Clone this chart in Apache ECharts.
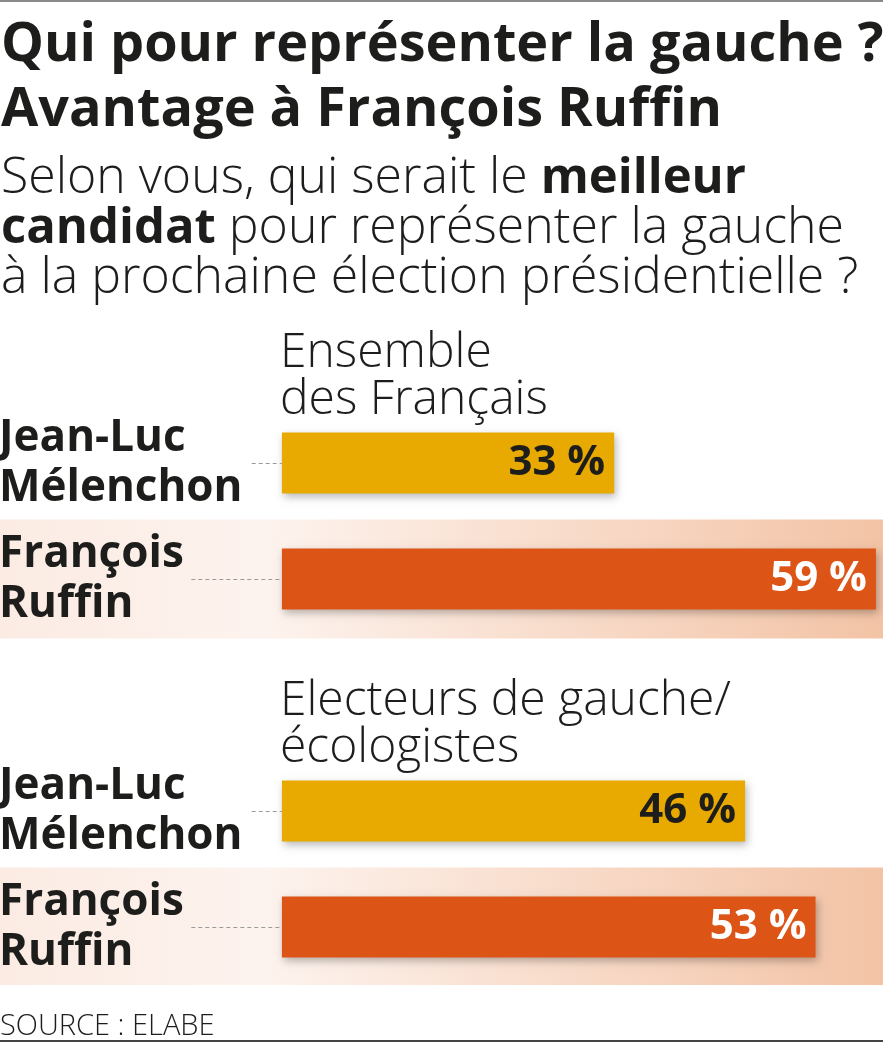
<!DOCTYPE html>
<html>
<head>
<meta charset="utf-8">
<script src="https://cdn.jsdelivr.net/npm/echarts@6/dist/echarts.min.js"></script>
<style>
html,body{margin:0;padding:0;background:#fff;}
#c{width:883px;height:1043px;}
</style>
</head>
<body>
<div id="c"></div>
<script>
const categories = ['', 'Jean-Luc\nMélenchon', 'François\nRuffin', '', 'Jean-Luc\nMélenchon', 'François\nRuffin'];
const groupHeaders = ['Ensemble\ndes Français', 'Electeurs de gauche/\nécologistes'];
const melenchonValues = ['-', 33, '-', '-', 46, '-'];
const ruffinValues = ['-', '-', 59, '-', '-', 53];
const highlightRows = ['-', '-', 1, '-', '-', 1];
const leaderMelenchon = -3;
const leaderRuffin = -9;

const FONT = "'Open Sans', sans-serif";
const DARK = '#1d1d1b';
const YELLOW = '#e8a900';
const ORANGE = '#dd5417';

const chart = echarts.init(document.getElementById('c'), null, {renderer: 'canvas'});

function leaders(values, start) {
  const out = [];
  values.forEach((v, i) => {
    if (v !== '-') out.push([{coord: [start, i]}, {coord: [0, i]}]);
  });
  return out;
}

const option = {
  backgroundColor: '#ffffff',
  animation: false,
  title: [
    {
      text: 'Qui pour représenter la gauche ?\nAvantage à François Ruffin',
      left: 1, top: 13, padding: 0,
      textStyle: {fontFamily: FONT, fontWeight: 700, fontSize: 54, lineHeight: 65, color: DARK}
    },
    {
      text: 'Selon vous, qui serait le {b|meilleur}\n{b|candidat} pour représenter la gauche\nà la prochaine élection présidentielle ?',
      left: 1, top: 154, padding: 0,
      textStyle: {
        fontFamily: FONT, fontWeight: 300, fontSize: 50, lineHeight: 50, color: DARK,
        rich: {b: {fontFamily: FONT, fontWeight: 700, fontSize: 49, lineHeight: 50, color: DARK}}
      }
    },
    {
      text: groupHeaders[0],
      left: 280, top: 330, padding: 0,
      textStyle: {fontFamily: FONT, fontWeight: 300, fontSize: 48, lineHeight: 47, color: DARK}
    },
    {
      text: groupHeaders[1],
      left: 280, top: 678, padding: 0,
      textStyle: {fontFamily: FONT, fontWeight: 300, fontSize: 48, lineHeight: 47, color: DARK}
    },
    {
      text: 'SOURCE : ELABE',
      left: 0, top: 1012, padding: 0,
      textStyle: {fontFamily: FONT, fontWeight: 300, fontSize: 29, lineHeight: 30, color: DARK}
    }
  ],
  graphic: [
    {type: 'line', shape: {x1: 0, y1: 1, x2: 883, y2: 1}, style: {stroke: '#8a8a8a', lineWidth: 2}},
    {type: 'line', shape: {x1: 0, y1: 1041, x2: 883, y2: 1041}, style: {stroke: '#444', lineWidth: 2}}
  ],
  grid: {left: 0, right: 0, top: 289, height: 696, containLabel: false, outerBoundsMode: 'none'},
  xAxis: [
    {type: 'value', min: -28, max: 59.7, show: false},
    {type: 'value', min: 0, max: 1, show: false}
  ],
  yAxis: [
    {
      type: 'category', data: categories, inverse: true,
      axisLine: {show: false}, axisTick: {show: false}, splitLine: {show: false},
      axisLabel: {
        inside: true, margin: -1, align: 'left', interval: 0,
        fontFamily: FONT, fontWeight: 700, fontSize: 44, lineHeight: 50, color: DARK
      },
      z: 10
    },
    {type: 'category', data: categories, inverse: true, show: false}
  ],
  series: [
    {
      name: 'band', type: 'bar', xAxisIndex: 1, yAxisIndex: 1,
      data: highlightRows, barWidth: 119, silent: true, z: 0,
      itemStyle: {
        color: new echarts.graphic.LinearGradient(0, 0, 1, 0, [
          {offset: 0, color: '#fbebe3'},
          {offset: 0.3, color: '#fdf3ee'},
          {offset: 1, color: '#f3c3a5'}
        ])
      }
    },
    {
      name: 'Jean-Luc Mélenchon', type: 'bar', data: melenchonValues,
      barWidth: 61, barGap: '-100%', z: 3,
      itemStyle: {color: YELLOW, shadowBlur: 8, shadowColor: 'rgba(0,0,0,0.28)', shadowOffsetX: 2, shadowOffsetY: 3},
      label: {
        show: true, position: 'insideRight', distance: 9, formatter: '{c} %',
        fontFamily: FONT, fontWeight: 700, fontSize: 42, color: DARK
      },
      markLine: {
        silent: true, symbol: 'none', label: {show: false},
        lineStyle: {color: '#9a9a9a', type: [4, 3], width: 1},
        data: leaders(melenchonValues, leaderMelenchon)
      }
    },
    {
      name: 'François Ruffin', type: 'bar', data: ruffinValues,
      barWidth: 61, barGap: '-100%', z: 3,
      itemStyle: {color: ORANGE, shadowBlur: 8, shadowColor: 'rgba(0,0,0,0.28)', shadowOffsetX: 2, shadowOffsetY: 3},
      label: {
        show: true, position: 'insideRight', distance: 9, formatter: '{c} %',
        fontFamily: FONT, fontWeight: 700, fontSize: 42, color: '#ffffff'
      },
      markLine: {
        silent: true, symbol: 'none', label: {show: false},
        lineStyle: {color: '#9a9a9a', type: [4, 3], width: 1},
        data: leaders(ruffinValues, leaderRuffin)
      }
    }
  ]
};
chart.setOption(option);
</script>
</body>
</html>
